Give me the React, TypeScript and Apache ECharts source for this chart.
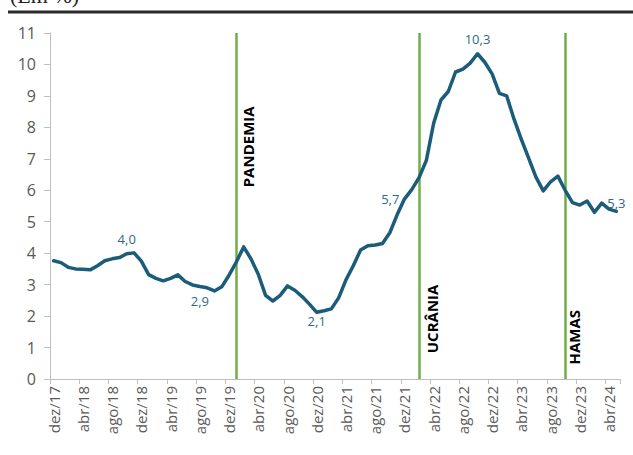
import React, { useEffect, useRef } from "react";
import * as echarts from "echarts";

const categories: string[] = [
  "dez/17",
  "jan/18", "fev/18", "mar/18", "abr/18", "mai/18", "jun/18", "jul/18", "ago/18", "set/18", "out/18", "nov/18", "dez/18",
  "jan/19", "fev/19", "mar/19", "abr/19", "mai/19", "jun/19", "jul/19", "ago/19", "set/19", "out/19", "nov/19", "dez/19",
  "jan/20", "fev/20", "mar/20", "abr/20", "mai/20", "jun/20", "jul/20", "ago/20", "set/20", "out/20", "nov/20", "dez/20",
  "jan/21", "fev/21", "mar/21", "abr/21", "mai/21", "jun/21", "jul/21", "ago/21", "set/21", "out/21", "nov/21", "dez/21",
  "jan/22", "fev/22", "mar/22", "abr/22", "mai/22", "jun/22", "jul/22", "ago/22", "set/22", "out/22", "nov/22", "dez/22",
  "jan/23", "fev/23", "mar/23", "abr/23", "mai/23", "jun/23", "jul/23", "ago/23", "set/23", "out/23", "nov/23", "dez/23",
  "jan/24", "fev/24", "mar/24", "abr/24", "mai/24",
];

const values: number[] = [
  3.76,
  3.7, 3.55, 3.5, 3.49, 3.47, 3.6, 3.76, 3.82, 3.86, 3.98, 4.01, 3.75,
  3.32, 3.2, 3.12, 3.2, 3.31, 3.1, 2.99, 2.94, 2.9, 2.8, 2.93, 3.3,
  3.72, 4.2, 3.82, 3.33, 2.66, 2.48, 2.66, 2.96, 2.82, 2.62, 2.38, 2.12,
  2.17, 2.23, 2.58, 3.15, 3.6, 4.1, 4.24, 4.26, 4.31, 4.65, 5.22, 5.72,
  6.02, 6.4, 6.95, 8.13, 8.87, 9.14, 9.76, 9.85, 10.04, 10.34, 10.07, 9.7,
  9.08, 9.0, 8.26, 7.62, 7.02, 6.42, 5.98, 6.27, 6.45, 6.0, 5.61, 5.53,
  5.66, 5.3, 5.59, 5.4, 5.33,
];

const yTicks: number[] = [0, 1, 2, 3, 4, 5, 6, 7, 8, 9, 10, 11];

// categories whose value is written on the chart
const labelledCats: string[] = ["out/18", "ago/19", "dez/20", "dez/21", "out/22", "mai/24"];

const eventNames: string[] = ["PANDEMIA", "UCRÂNIA", "HAMAS"];
const eventCats: string[] = ["jan/20", "fev/22", "out/23"];
const eventLabelLevels: number[] = [7.38, 1.91, 1.33];

const unitText = "(Em %)";

const fmt = (v: number) => v.toFixed(1).replace(".", ",");

export default function App() {
  const ref = useRef<HTMLDivElement>(null);

  useEffect(() => {
    if (!ref.current) return;
    const chart = echarts.init(ref.current, undefined, { renderer: "svg" });

    const labelStyles: Record<string, any> = {
      "out/18": { position: "top", distance: 8 },
      "ago/19": { position: "bottom", distance: 8, offset: [3, 0] },
      "dez/20": { position: "bottom", distance: 2 },
      "dez/21": { position: "left", distance: 5, offset: [0, -4] },
      "out/22": { position: "top", distance: 8 },
      "mai/24": { position: "top", distance: 2, offset: [4, 0] },
    };

    const seriesData = values.map((v, i) => {
      const c = categories[i];
      if (labelledCats.includes(c)) {
        return {
          value: v,
          label: {
            show: true,
            formatter: (p: any) => fmt(Number(p.value)),
            color: "#2E6B8A",
            fontSize: 13,
            fontFamily: "Open Sans",
            ...labelStyles[c],
          },
        };
      }
      return { value: v, label: { show: false } };
    });

    chart.setOption({
      animation: false,
      backgroundColor: "#ffffff",
      grid: { left: 50, right: 13, top: 33, bottom: 76, containLabel: false },
      xAxis: {
        type: "category",
        data: categories,
        boundaryGap: true,
        axisLine: { show: true, lineStyle: { color: "#BFBFBF", width: 1 } },
        axisTick: { show: true, interval: 3, length: 5, lineStyle: { color: "#BFBFBF" } },
        axisLabel: {
          interval: 3,
          rotate: 90,
          margin: 7,
          color: "#595959",
          fontSize: 15,
          fontFamily: "Open Sans",
        },
        splitLine: { show: false },
      },
      yAxis: {
        type: "value",
        min: yTicks[0],
        max: yTicks[yTicks.length - 1],
        interval: 1,
        axisLine: { show: true, lineStyle: { color: "#BFBFBF", width: 1 } },
        axisTick: { show: true, length: 6, lineStyle: { color: "#BFBFBF" } },
        axisLabel: {
          color: "#595959",
          fontSize: 16,
          fontFamily: "Open Sans",
          margin: 14,
        },
        splitLine: { show: false },
      },
      series: [
        {
          type: "line",
          data: seriesData,
          showSymbol: true,
          symbol: "circle",
          symbolSize: 0,
          smooth: false,
          lineStyle: { color: "#1B5C7A", width: 3.5, join: "round", cap: "round" },
          itemStyle: { color: "#1B5C7A" },
          labelLayout: { hideOverlap: false },
          z: 3,
          markLine: {
            silent: true,
            symbol: ["none", "none"],
            label: { show: false },
            lineStyle: { color: "#70AD47", width: 2.5, type: "solid" },
            data: eventCats.map((c) => ({ xAxis: c })),
            z: 2,
          },
        },
      ],
    });

    const offsets = [11.5, 13.3, 8.7];
    const eventTexts = eventNames.map((name, i) => {
      const idx = categories.indexOf(eventCats[i]);
      const p = chart.convertToPixel({ xAxisIndex: 0, yAxisIndex: 0 }, [idx, eventLabelLevels[i]]) as number[];
      return {
        type: "text",
        x: p[0] + offsets[i],
        y: p[1],
        rotation: Math.PI / 2,
        z: 10,
        style: {
          text: name,
          fill: "#000000",
          font: "bold 15px 'Open Sans'",
          align: "center",
          verticalAlign: "middle",
        },
      };
    });

    chart.setOption({
      graphic: [
        {
          type: "line",
          shape: { x1: 8, y1: 12, x2: 633, y2: 12 },
          style: { stroke: "#2B2B2B", lineWidth: 3 },
          z: 10,
        },
        {
          type: "text",
          x: 10,
          y: 6,
          style: {
            text: unitText,
            fill: "#222222",
            font: "22px 'Liberation Serif'",
            align: "left",
            verticalAlign: "bottom",
          },
        },
        ...eventTexts,
      ],
    });

    return () => chart.dispose();
  }, []);

  return (
    <div
      ref={ref}
      style={{ position: "fixed", left: 0, top: 0, width: 633, height: 455 }}
    />
  );
}
